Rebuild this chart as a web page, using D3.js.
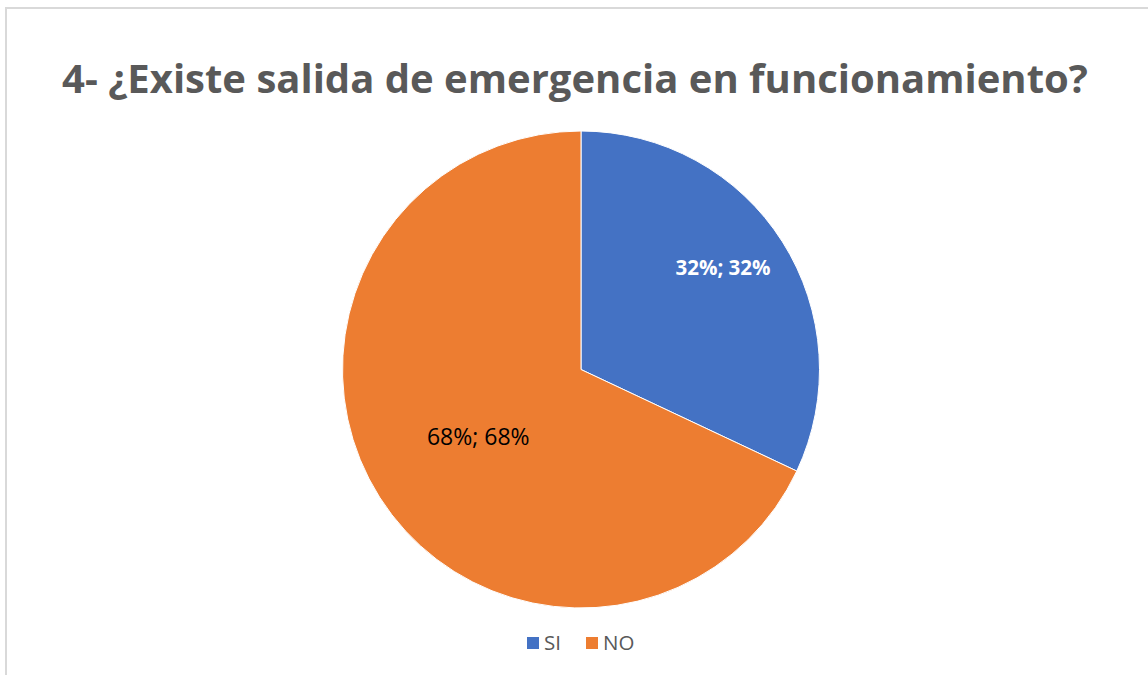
<!DOCTYPE html>
<html>
<head>
<meta charset="utf-8">
<script src="https://cdn.jsdelivr.net/npm/d3@7"></script>
<style>
  body { margin: 0; background: #fff; }
  svg { display: block; }
</style>
</head>
<body>
<div id="chart"></div>
<script>
// data
var categories = ["SI", "NO"];
var values = [32, 68];
var labels = ["32%; 32%", "68%; 68%"];
var colors = ["#4472c4", "#ed7d31"];
var title = "4- ¿Existe salida de emergencia en funcionamiento?";

var width = 1148, height = 675;
var svg = d3.select("#chart").append("svg")
    .attr("width", width)
    .attr("height", height);

// chart border (runs off the right / bottom edge)
svg.append("rect")
    .attr("x", 6).attr("y", 8)
    .attr("width", 1160).attr("height", 700)
    .style("fill", "#fff")
    .style("stroke", "#d9d9d9")
    .style("stroke-width", 2);

// title
var t = svg.append("text")
    .attr("x", 575)
    .attr("y", 93)
    .style("text-anchor", "middle")
    .style("font-family", "'Open Sans', sans-serif")
    .style("font-weight", "bold")
    .style("font-size", "40px")
    .style("fill", "#595959")
    .text(title);
// fit to the width of the reference title
var tw = t.node().getComputedTextLength();
t.style("font-size", (40 * 1026 / tw) + "px");

// pie
var cx = 581, cy = 369.5, R = 238.5;
var g = svg.append("g").attr("transform", "translate(" + cx + "," + cy + ")");

var pie = d3.pie().sort(null).value(function(d) { return d; });
var arcs = pie(values);
var arc = d3.arc().innerRadius(0).outerRadius(R);

g.selectAll("path.slice")
    .data(arcs)
    .enter().append("path")
      .attr("class", "slice")
      .attr("d", arc)
      .style("fill", function(d, i) { return colors[i]; })
      .style("stroke", "#fff")
      .style("stroke-width", 1);

// labels
var labelRadius = [0.72, 0.53];
var labelShift = [[-3, -10], [4, 0]];
g.selectAll("text.lbl")
    .data(arcs)
    .enter().append("text")
      .attr("class", "lbl")
      .attr("transform", function(d, i) {
        var r = R * labelRadius[i];
        var p = d3.arc().innerRadius(r).outerRadius(r).centroid(d);
        return "translate(" + (p[0] + labelShift[i][0]) + "," + (p[1] + labelShift[i][1]) + ")";
      })
      .attr("dy", "0.35em")
      .style("text-anchor", "middle")
      .style("font-family", "'Open Sans', sans-serif")
      .style("font-size", function(d, i) { return i === 0 ? "20.5px" : "23px"; })
      .style("font-weight", function(d, i) { return i === 0 ? "bold" : "normal"; })
      .style("fill", function(d, i) { return i === 0 ? "#fff" : "#000"; })
      .text(function(d, i) { return labels[i]; });

// legend
var legendX = [527, 586];
var leg = svg.append("g").selectAll("g")
    .data(categories)
    .enter().append("g")
      .attr("transform", function(d, i) { return "translate(" + legendX[i] + ",637)"; });
leg.append("rect")
    .attr("width", 12).attr("height", 12)
    .style("fill", function(d, i) { return colors[i]; });
leg.append("text")
    .attr("x", 17).attr("y", 13)
    .style("font-family", "'Open Sans', sans-serif")
    .style("font-size", "20.5px")
    .style("fill", "#595959")
    .text(function(d) { return d; });
</script>
</body>
</html>
